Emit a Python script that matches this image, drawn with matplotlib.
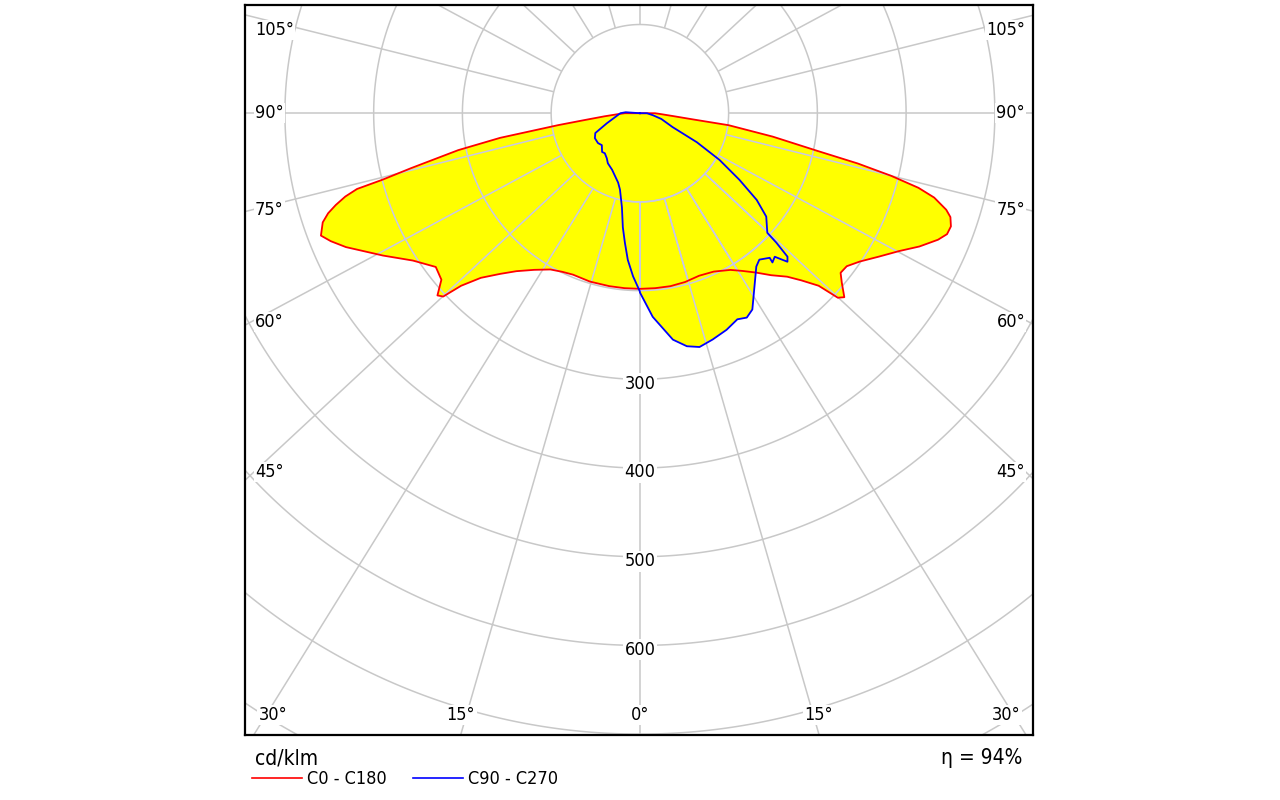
import numpy as np
import matplotlib.pyplot as plt
from matplotlib.collections import LineCollection
from matplotlib.lines import Line2D

plt.rcParams['font.family'] = 'DejaVu Sans'
plt.rcParams['font.stretch'] = 'condensed'

# C0 - C180 plane (red), gamma in degrees, intensity in cd/klm
c0_gamma = [0, 5, 10, 15, 20, 25, 30, 33, 36, 39, 42, 44, 46, 47, 48, 50, 51.5, 53.5, 56, 59,
            62, 64.5, 67, 68.5, 70, 71.5, 72.5, 74, 75, 76, 77, 78, 80, 82.3, 83.4, 85, 87.5, 90, 90.5, 180]
c0_cd = [198, 198, 198, 197, 195, 197, 204, 212, 222, 235, 248, 262, 280, 305, 310, 297, 289, 290, 299, 314,
         331, 349, 365, 372, 373, 369, 362, 345, 325, 292, 252, 205, 152, 101, 59, 38, 24, 17, 0, 0]
c180_gamma = [0, 5, 10, 16.5, 22.5, 26, 29.8, 34, 38, 41, 44, 46, 47, 48, 50, 53, 57, 61, 65.5, 67.5,
              69, 71, 72.2, 73.2, 74.2, 75, 75.5, 76.5, 78.5, 80, 81.7, 83, 85, 87.5, 90, 90.5, 180]
c180_cd = [198, 198, 198, 198, 197, 199, 203, 213, 226, 240, 258, 280, 303, 307, 292, 288, 305, 331, 364, 377,
           385, 378, 369, 358, 345, 330, 300, 265, 209, 160, 93, 62, 40, 25, 17, 0, 0]

# C90 - C270 plane (blue)
c90_gamma = [0, 3.6, 8.3, 11.4, 14.3, 17.8, 21.8, 25.3, 27.6, 29.8, 33.5, 37.2, 39.2, 41.9, 41.6, 43.2,
             44.8, 45.8, 46.5, 46.8, 50.7, 53.4, 56.2, 59.6, 63, 67, 75, 81, 90, 95, 180]
c90_cd = [202, 230, 258, 268, 272, 268, 263, 257, 260, 255, 234, 217, 213, 219, 225, 222,
          236, 232, 212, 197, 184, 164, 135, 104, 72, 40, 25, 15, 8, 0, 0]
c270_gamma = [0, 2.4, 4.7, 6.6, 8.5, 10.8, 14.6, 17.4, 26.2, 32.6, 36.3, 41.2, 44.3, 50, 54.5, 61, 66, 73,
              90, 94, 100, 180]
c270_cd = [201, 184, 166, 147, 130, 108, 89, 82, 71, 67, 63, 60, 61, 56, 58, 58, 55, 39,
           22, 16, 0, 0]

ring_values = [100, 200, 300, 400, 500, 600, 700, 800, 900, 1000]
ring_labels = [300, 400, 500, 600]
side_labels = [105, 90, 75, 60, 45]
bottom_labels = [30, 15, 0, 15, 30]
efficiency = 94


def to_xy(gamma, cd, side):
    g = np.radians(gamma)
    cd = np.asarray(cd, float)
    return side * cd * np.sin(g), -cd * np.cos(g)


def plane_path(g_left, v_left, g_right, v_right):
    xl, yl = to_xy(g_left, v_left, -1)
    xr, yr = to_xy(g_right, v_right, 1)
    return np.concatenate([xl[::-1], xr]), np.concatenate([yl[::-1], yr])


W, H = 1280, 800
fig = plt.figure(figsize=(W / 100, H / 100), dpi=100)
ax = fig.add_axes([245 / W, 65 / H, 788 / W, 730 / H])
ax.set_xlim(-445, 443)
ax.set_ylim(-701, 122)
ax.set_xticks([])
ax.set_yticks([])
for s in ax.spines.values():
    s.set_linewidth(1.6)

# polar grid: rings every 100 cd/klm, rays every 15 deg starting at the first ring
# (the source draws its rays a little flattened towards the horizontal)
flat = 0.93
t = np.linspace(0, 2 * np.pi, 721)
segs = [np.column_stack([r * np.cos(t), r * np.sin(t)]) for r in ring_values]
for a in np.radians(np.arange(0, 360, 15)):
    d = np.array([np.sin(a), -flat * np.cos(a)])
    d /= np.hypot(*d)
    segs.append([100 * d, 1200 * d])
ax.add_collection(LineCollection(segs, colors='#c8c8c8', linewidths=1.1, zorder=1))

red_x, red_y = plane_path(c180_gamma, c180_cd, c0_gamma, c0_cd)
blue_x, blue_y = plane_path(c270_gamma, c270_cd, c90_gamma, c90_cd)
for px, py in [(red_x, red_y), (blue_x, blue_y)]:
    patch = ax.fill(px, py, color='#ffff00', lw=0, zorder=2)[0]
    lc = LineCollection(segs, colors='#c8c8e6', linewidths=1.1, zorder=3)
    ax.add_collection(lc)
    lc.set_clip_path(patch)
ax.plot(red_x, red_y, color='#ff0000', lw=1.3, zorder=4)
ax.plot(blue_x, blue_y, color='#0000ff', lw=1.3, zorder=5)

box = dict(fc='white', ec='none', pad=1.0)
for v in ring_labels:
    ax.text(0, -v - 5, str(v), ha='center', va='center', fontsize=13, bbox=box, zorder=6)

# angle labels along the frame
side_y = [30, 113, 210, 322, 472]
for lab, yp in zip(side_labels, side_y):
    fig.text(255 / W, 1 - yp / H, f'{lab}°', ha='left', va='center', fontsize=13, bbox=box)
    fig.text(1025 / W, 1 - yp / H, f'{lab}°', ha='right', va='center', fontsize=13, bbox=box)
bottom_x = [273, 461, 640, 819, 1006]
for lab, xp in zip(bottom_labels, bottom_x):
    fig.text(xp / W, 1 - 715 / H, f'{lab}°', ha='center', va='center', fontsize=13, bbox=box)

fig.text(255 / W, 1 - 759 / H, 'cd/klm', ha='left', va='center', fontsize=15)
fig.text(1022 / W, 1 - 758 / H, f'η = {efficiency}%', ha='right', va='center', fontsize=15)

handles = [Line2D([], [], color='#ff0000', lw=1.2), Line2D([], [], color='#0000ff', lw=1.2)]
fig.legend(handles, ['C0 - C180', 'C90 - C270'], loc='center left',
           bbox_to_anchor=(252 / W, 1 - 779 / H), ncol=2, frameon=False, fontsize=13,
           handlelength=2.75, handletextpad=0.3, columnspacing=1.45, borderpad=0, borderaxespad=0)

fig.savefig('out.png', dpi=100)
